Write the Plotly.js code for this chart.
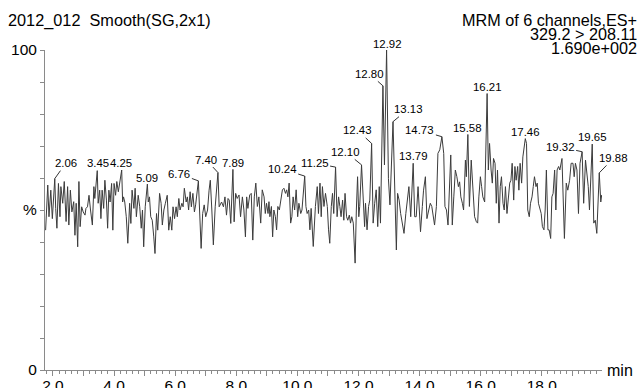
<!DOCTYPE html>
<html>
<head>
<meta charset="utf-8">
<script src="https://cdn.plot.ly/plotly-3.0.1.min.js"></script>
<style>html,body{margin:0;padding:0;background:#fff;}#chart{width:637px;height:388px;}</style>
</head>
<body>
<div id="chart"></div>
<script>
// ---- data (retention time in min, relative intensity in %) ----
const times = [
1.76,1.83,1.87,1.93,1.98,2.06,2.09,2.13,2.18,2.23,2.26,2.32,2.37,2.43,2.48,2.52,2.57,2.62,2.68,2.72,
2.76,2.81,2.85,2.89,2.94,2.99,3.05,3.08,3.13,3.18,3.23,3.29,3.34,3.37,3.45,3.48,3.53,3.57,3.61,3.66,
3.70,3.75,3.79,3.83,3.87,3.92,3.96,4.00,4.05,4.09,4.14,4.18,4.25,4.28,4.31,4.35,4.40,4.45,4.51,4.55,
4.59,4.65,4.69,4.73,4.79,4.84,4.89,4.93,4.97,5.02,5.09,5.12,5.16,5.20,5.25,5.30,5.34,5.39,5.43,5.49,
5.54,5.58,5.63,5.68,5.74,5.79,5.84,5.89,5.93,5.98,6.03,6.07,6.12,6.16,6.22,6.26,6.30,6.36,6.40,6.44,
6.49,6.53,6.58,6.63,6.67,6.76,6.85,6.90,6.95,7.00,7.06,7.11,7.15,7.20,7.25,7.31,7.40,7.44,7.48,7.52,
7.58,7.63,7.68,7.73,7.77,7.82,
7.89,7.93,7.98,8.03,8.09,8.14,8.20,8.25,8.30,8.34,8.38,8.44,8.49,8.54,8.59,8.64,8.69,8.74,8.80,8.85,
8.91,8.95,8.99,9.04,9.07,9.10,9.15,9.19,9.23,9.28,9.32,9.36,9.41,9.45,9.51,9.56,9.61,9.65,9.69,9.73,
9.78,9.82,9.86,9.91,9.96,10.01,10.05,10.11,10.15,10.24,10.28,10.32,10.37,10.41,10.45,10.52,10.59,10.65,10.69,10.74,
10.78,10.82,10.87,10.92,10.98,11.02,11.06,11.11,11.15,11.19,11.25,11.30,11.35,11.39,11.43,11.48,11.52,11.56,11.61,11.65,
11.70,11.74,11.78,11.83,11.89,11.93,11.97,12.01,12.04,12.10,12.15,12.20,12.23,12.28,12.33,12.37,12.43,12.48,12.53,12.58,
12.63,12.68,12.72,12.80,12.85,12.92,12.98,13.03,13.13,13.18,13.24,13.28,13.33,13.38,13.44,13.49,13.55,13.60,13.65,13.71,
13.79,13.84,13.89,
13.95,14.03,14.09,14.13,14.19,14.24,14.30,14.35,14.40,14.44,14.49,14.55,14.60,14.66,14.73,14.79,14.83,14.88,14.93,15.02,
15.07,15.12,15.17,15.22,15.27,15.31,15.35,15.40,15.44,15.50,15.53,15.58,15.63,15.69,15.75,15.80,15.86,15.90,15.94,15.99,
16.03,16.07,16.13,16.16,16.21,16.25,16.29,16.34,16.38,16.42,16.47,16.51,16.55,16.60,16.64,16.68,16.73,16.77,16.81,16.86,
16.90,16.95,16.99,17.03,17.08,17.12,17.16,17.21,17.25,17.29,17.34,17.38,17.46,17.50,17.54,17.59,17.63,17.68,17.72,17.76,
17.81,17.85,17.89,17.94,17.98,18.02,18.07,18.11,18.15,18.20,18.24,18.29,18.33,18.37,18.42,18.46,18.50,18.55,18.59,18.66,
18.74,18.80,18.85,18.91,18.96,19.02,19.06,19.10,19.15,19.20,19.25,19.32,19.37,19.43,19.47,19.52,19.56,19.65,19.70,19.75,
19.80,19.88,19.93,19.96
];
const intensity = [
43.7,57.8,47.9,56.2,47.3,59.8,50.5,44.3,58.3,47.9,57.3,52.1,58.9,46.4,57.3,45.3,56.2,49.4,52.6,42.1,
52.1,38.5,58.9,44.8,51.0,49.4,48.4,50.5,51.0,54.6,50.0,45.3,57.3,53.6,62.3,52.1,56.2,47.3,56.2,50.5,
59.3,53.1,44.3,56.2,52.5,58.3,43.7,58.3,54.6,58.9,55.7,58.3,62.5,52.5,54.1,52.5,47.9,39.6,52.1,45.8,
56.2,50.5,56.8,47.9,54.6,51.0,44.3,50.0,38.5,51.0,58.1,52.5,54.1,47.9,46.8,41.6,36.4,48.9,43.7,55.2,
52.1,45.3,50.0,52.1,54.6,43.7,47.9,43.7,51.0,47.3,51.0,47.9,53.6,50.0,52.1,51.0,56.8,52.5,54.1,50.0,
55.7,51.0,55.2,49.4,51.6,59.1,38.0,48.9,51.6,47.9,50.0,56.2,59.3,50.0,39.1,51.0,61.7,51.0,51.6,52.5,
51.0,54.1,48.4,53.6,53.1,45.8,
62.7,46.3,55.2,53.6,54.7,47.9,54.1,50.0,41.6,54.1,50.5,54.7,55.2,40.6,54.1,58.4,51.1,54.1,45.9,56.3,
54.1,48.9,52.1,48.9,52.6,47.9,51.1,41.6,50.0,47.9,43.8,51.1,50.0,52.1,56.3,56.8,55.2,56.3,54.1,58.4,
45.9,47.9,54.1,50.0,56.3,47.9,52.1,48.9,50.0,60.6,51.1,48.9,50.0,43.8,50.5,38.6,51.1,57.3,48.9,58.4,
47.9,57.3,51.1,55.2,51.1,43.8,39.6,51.1,55.2,48.9,63.4,47.9,54.1,51.1,47.9,53.1,46.8,55.2,47.9,46.8,
48.4,45.9,47.9,45.9,33.4,50.0,60.4,47.9,51.1,64.1,56.3,44.8,52.1,43.8,51.1,53.1,70.8,45.9,52.1,56.3,
44.8,57.3,45.9,88.8,64.1,100.0,59.8,51.6,77.6,56.3,37.5,55.2,53.1,48.9,45.9,42.7,48.9,54.1,57.3,47.9,
64.6,47.9,47.9,
57.3,43.2,51.1,56.2,60.4,47.3,50.0,52.1,51.1,47.9,45.3,51.1,67.7,68.8,72.9,67.7,51.1,50.0,45.3,67.2,
45.3,54.1,62.5,60.4,57.3,58.8,54.1,52.1,50.0,65.6,60.4,73.6,51.1,65.6,54.1,47.9,46.3,45.9,54.1,60.4,
57.3,54.1,52.5,64.6,86.4,62.5,70.8,62.5,58.4,66.1,64.6,52.1,62.5,45.9,57.3,60.4,52.1,50.0,57.3,48.9,
53.1,58.4,59.3,64.6,53.1,63.6,59.3,63.6,56.2,64.6,58.4,66.6,72.3,70.8,50.0,47.9,52.1,54.1,57.3,60.4,
57.3,58.4,52.1,50.0,48.9,44.8,43.8,50.0,62.5,43.8,43.8,41.1,54.1,55.2,62.5,50.0,62.5,63.6,62.5,66.1,
41.1,58.4,56.2,59.3,64.6,64.6,60.4,64.6,62.5,48.9,64.6,68.2,52.1,65.6,61.4,57.3,50.0,70.6,45.9,46.8,
42.7,61.6,52.5,54.7
];
const peakTimes = [2.06,3.45,4.25,5.09,6.76,7.40,7.89,10.24,11.25,12.10,12.43,12.80,12.92,13.13,13.79,14.73,15.58,16.21,17.46,19.32,19.65,19.88];
const xTickValues = [2,3,4,5,6,7,8,9,10,11,12,13,14,15,16,17,18,19];
const xLabelValues = [2,4,6,8,10,12,14,16,18];
const xLabelTexts = ['2.0','4.0','6.0','8.0','10.0','12.0','14.0','16.0','18.0'];
const yTickValues = [0,10,20,30,40,50,60,70,80,90,100];
const yTickLabels = ['0','','','','','%','','','','','100'];
const headerLeft = '2012_012\u00a0 Smooth(SG,2x1)';
const headerRight = ['MRM of 6 channels,ES+', '329.2 > 208.11', '1.690e+002'];

// ---- label placement (pixel offsets of text centre from the peak apex) ----
const labelLayout = [
  [11,-15.5,true],[1,-8,false],[-1,-7,false],[0,-6.5,false],[-19,-7,true],[-12,-13,true],[0,-6.5,false],
  [-22.5,-7,true],[-21,-4,true],[-16,-13,true],[-14,-13,true],[-13.5,-12,true],[1,-6.5,false],[15,-12.5,true],
  [0,-7.5,false],[-22,-6.5,true],[0,-6.5,false],[0,-6.5,false],[0,-6.5,false],[-22,-5,true],[0,-7,false],[14.5,-15,true]
];

const FONT = '"Liberation Sans", Arial, sans-serif';
const W = 637, H = 388, L = 45, R = 35, T = 50, B = 18;
const pw = W - L - R, ph = H - T - B;
const px = x => (x - L) / pw;
const py = y => (H - B - y) / ph;
const GREY = '#8a8a8a';

const annotations = [];
peakTimes.forEach((t, i) => {
  let idx = 0, best = Infinity;
  times.forEach((tt, j) => { const d = Math.abs(tt - t); if (d < best) { best = d; idx = j; } });
  const [dx, dy, leader] = labelLayout[i];
  const a = {x: t, y: intensity[idx], xref: 'x', yref: 'y', text: t.toFixed(2),
    font: {family: FONT, size: 11.4, color: '#000'}};
  if (leader) {
    Object.assign(a, {showarrow: true, arrowhead: 0, arrowwidth: 1, arrowcolor: '#333', ax: dx, ay: dy, standoff: 0});
  } else {
    Object.assign(a, {showarrow: false, xanchor: 'center', yanchor: 'middle', xshift: dx, yshift: -dy});
  }
  annotations.push(a);
});
annotations.push({xref: 'paper', yref: 'paper', x: px(6), y: py(20.5), xanchor: 'left', yanchor: 'middle',
  text: headerLeft, showarrow: false, font: {family: FONT, size: 16.3, color: '#000'}});
[20.5, 34, 47.5].forEach((yy, i) => annotations.push({xref: 'paper', yref: 'paper', x: px(639), y: py(yy),
  xanchor: 'right', yanchor: 'middle', text: headerRight[i], showarrow: false,
  font: {family: FONT, size: 16.2, color: '#000'}}));
annotations.push({xref: 'paper', yref: 'paper', x: px(605), y: py(370.5), xanchor: 'left', yanchor: 'middle',
  text: 'min', showarrow: false, font: {family: FONT, size: 16, color: '#000'}});

const trace = {x: times, y: intensity, type: 'scatter', mode: 'lines',
  line: {color: '#3c3c3c', width: 1}, cliponaxis: false, hoverinfo: 'skip'};
// empty carrier so the label-only axis (x2) is drawn
const labelAxisCarrier = {x: [], y: [], xaxis: 'x2', yaxis: 'y', type: 'scatter', mode: 'lines', hoverinfo: 'skip', showlegend: false};

const XRANGE = [1.74, 19.97];
const layout = {
  width: W, height: H, margin: {l: L, r: R, t: T, b: B, pad: 0},
  paper_bgcolor: '#fff', plot_bgcolor: '#fff', showlegend: false,
  xaxis: {range: XRANGE, showgrid: false, zeroline: false, showline: true, linecolor: GREY, linewidth: 1,
    tickmode: 'array', tickvals: xTickValues, showticklabels: false, ticks: 'outside', ticklen: 5, tickcolor: GREY,
    minor: {tickmode: 'linear', tick0: 0, dtick: 0.2, ticks: 'outside', ticklen: 3, tickcolor: GREY, showgrid: false}},
  xaxis2: {overlaying: 'x', anchor: 'y', side: 'bottom', range: XRANGE, showgrid: false, zeroline: false, showline: false,
    tickmode: 'array', tickvals: xLabelValues, ticktext: xLabelTexts, ticks: '', ticklen: 0, ticklabelstandoff: 4,
    tickfont: {family: FONT, size: 15.5, color: '#000'}},
  yaxis: {range: [0, 100], showgrid: false, zeroline: false, showline: true, linecolor: GREY, linewidth: 1,
    tickmode: 'array', tickvals: yTickValues, ticktext: yTickLabels, ticks: 'outside', ticklen: 4, tickcolor: GREY,
    tickfont: {family: FONT, size: 15.5, color: '#000'}},
  annotations: annotations
};
Plotly.newPlot('chart', [trace, labelAxisCarrier], layout, {staticPlot: true, displayModeBar: false});
</script>
</body>
</html>
